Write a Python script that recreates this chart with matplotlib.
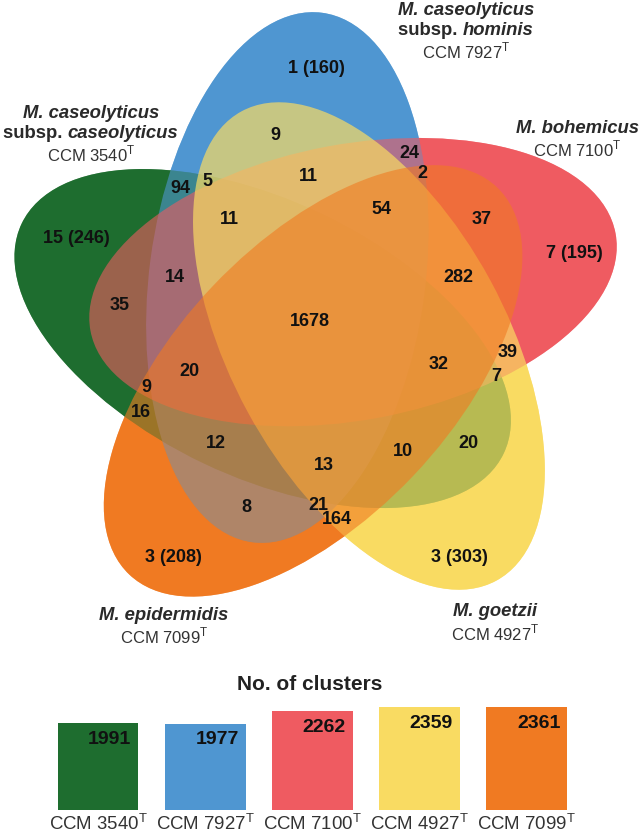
import numpy as np
import matplotlib
matplotlib.use("Agg")
from matplotlib import pyplot as plt
from matplotlib.patches import Ellipse

plt.rcParams["font.family"] = ["Liberation Sans", "DejaVu Sans"]
plt.rcParams["mathtext.fontset"] = "custom"
plt.rcParams["mathtext.rm"] = "Liberation Sans"

# sets, in the order they sit round the diagram (clockwise from the top)
strains = ["CCM 7927", "CCM 7100", "CCM 4927", "CCM 7099", "CCM 3540"]
species = [["M. caseolyticus", "subsp. hominis"], ["M. bohemicus"], ["M. goetzii"],
           ["M. epidermidis"], ["M. caseolyticus", "subsp. caseolyticus"]]
set_colors = ["#4F96D1", "#EF5B61", "#F9DB62", "#F07A22", "#1E6D2F"]
set_alpha = [0.6, 0.6, 0.7, 0.6, 0.6]
layer_order = [4, 0, 1, 2, 3]  # green drawn first, orange last

# region counts (unique genes in brackets for the one-set regions)
region_counts = [1, 9, 24, 2, 11, 5, 94, 54, 11, 37, 15, 7, 14, 282, 35, 1678,
                 39, 32, 20, 7, 9, 16, 12, 20, 10, 13, 21, 8, 164, 3, 3]
region_unique = {0: 160, 10: 246, 11: 195, 29: 208, 30: 303}
region_xy = [(316, 68), (275, 135), (409, 153), (422, 173), (308, 176), (207, 181),
             (180, 188), (381, 209), (229, 219), (482, 219), (76, 238), (574, 253),
             (175, 277), (458, 277), (120, 306), (310, 321), (508, 352), (439, 364),
             (189, 371), (496, 376), (146, 387), (141, 412), (216, 443), (468, 443),
             (403, 451), (324, 465), (318, 505), (246, 508), (337, 519), (173, 557),
             (459, 557)]

# bar panel
bar_strains = ["CCM 3540", "CCM 7927", "CCM 7100", "CCM 4927", "CCM 7099"]
bar_values = [1991, 1977, 2262, 2359, 2361]
bar_colors = ["#1E6D2F", "#4F96D1", "#EF5B61", "#F9DB62", "#F07A22"]

num_font = ["Liberation Sans Narrow", "Liberation Sans", "DejaVu Sans"]

fig = plt.figure(figsize=(6.41, 8.34), dpi=100)
ax = fig.add_axes([0, 0, 1, 1])
ax.set_xlim(0, 641)
ax.set_ylim(834, 0)
ax.axis("off")

# five ellipses, each turned 72 degrees from the last
cx, cy, r = 317, 325, 56
a, b = 267, 138
ells = []
for k in range(5):
    th = -82.5 + 72 * k
    ph = np.radians(-122 + 72 * k)
    ells.append(((cx + r * np.cos(ph), cy + r * np.sin(ph)), th))

# opaque base of the lowest set, then see-through layers on top
for k in layer_order[::-1]:
    (x, y), th = ells[k]
    ax.add_patch(Ellipse((x, y), 2 * a, 2 * b, angle=th, color=set_colors[k], lw=0))
for k in layer_order:
    (x, y), th = ells[k]
    ax.add_patch(Ellipse((x, y), 2 * a, 2 * b, angle=th, color=set_colors[k],
                         alpha=set_alpha[k], lw=0))

for i, (n, (x, y)) in enumerate(zip(region_counts, region_xy)):
    s = str(n)
    if i in region_unique:
        s += " (%d)" % region_unique[i]
    ax.text(x, y, s, ha="center", va="center", fontsize=13, fontweight="bold",
            family=num_font, color="#111111")

name_xy = [(466, 10), (577, 128), (495, 612), (164, 615), (91, 113)]
fig.canvas.draw()
rend = fig.canvas.get_renderer()
for k in range(5):
    x, y = name_xy[k]
    lines = species[k]
    ax.text(x, y, lines[0], ha="center", va="center", fontsize=13.3,
            fontweight="bold", style="italic", color="#2a2a2a")
    if len(lines) > 1:
        head, tail = lines[1].split(" ")
        t1 = ax.text(x, y + 20, head + " ", ha="left", va="center", fontsize=13.3,
                     fontweight="bold", color="#2a2a2a")
        t2 = ax.text(x, y + 20, tail, ha="left", va="center", fontsize=13.3,
                     fontweight="bold", style="italic", color="#2a2a2a")
        w1 = t1.get_window_extent(rend).width
        w2 = t2.get_window_extent(rend).width
        left = x - (w1 + w2) / 2
        t1.set_x(left)
        t2.set_x(left + w1)
        y += 20
    ax.text(x, y + 21, strains[k] + r"$^\mathregular{T}$", ha="center", va="center",
            fontsize=12, color="#333333")

ax.text(310, 685, "No. of clusters", ha="center", va="center", fontsize=15,
        fontweight="bold", color="#222222")

# bar chart of cluster totals
ax2 = fig.add_axes([44.4 / 641, 24 / 834, 536 / 641, 109 / 834])
pos = np.arange(len(bar_values))
ax2.bar(pos, bar_values, width=0.755, color=bar_colors)
ax2.set_xlim(-0.5, 4.5)
ax2.set_ylim(0, 2500)
for p, v in zip(pos, bar_values):
    ax2.text(p + 0.11, v - 366, str(v), ha="center", va="center", fontsize=14,
             fontweight="bold", family=num_font, color="#111111")
ax2.set_xticks(pos)
ax2.set_xticklabels([s + r"$^\mathregular{T}$" for s in bar_strains], fontsize=13.4,
                    color="#333333")
ax2.tick_params(length=0, pad=2)
ax2.set_yticks([])
for sp in ax2.spines.values():
    sp.set_visible(False)
ax2.patch.set_alpha(0)

fig.savefig("out.png", dpi=100)
